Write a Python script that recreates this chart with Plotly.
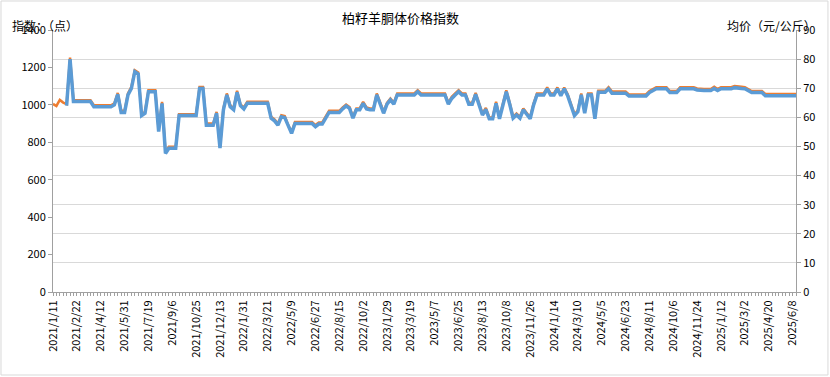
import datetime as dt
import plotly.graph_objects as go

# Tick labels shown on the category axis (every 7th category)
tick_labels = ["2021/1/11", "2021/2/22", "2021/4/12", "2021/5/31", "2021/7/19", "2021/9/6",
               "2021/10/25", "2021/12/13", "2022/1/31", "2022/3/21", "2022/5/9", "2022/6/27",
               "2022/8/15", "2022/10/2", "2023/1/29", "2023/3/19", "2023/5/7", "2023/6/25",
               "2023/8/13", "2023/10/8", "2023/11/26", "2024/1/14", "2024/3/10", "2024/5/5",
               "2024/6/23", "2024/8/11", "2024/10/6", "2024/11/24", "2025/1/12", "2025/3/2",
               "2025/4/20", "2025/6/8"]

# 指数（点） - left axis
index_values = [
    1005, 994, 1026, 1012, 1004, 1253, 1025, 1025, 1025, 1025, 1025, 1025,
    998, 998, 998, 998, 998, 998, 1008, 1064, 968, 968, 1061, 1096,
    1185, 1173, 950, 963, 1078, 1078, 1078, 865, 1016, 749, 776, 776,
    776, 950, 950, 950, 950, 950, 950, 1096, 1096, 900, 900, 900,
    963, 776, 981, 1061, 998, 981, 1075, 1003, 986, 1016, 1016, 1016,
    1016, 1016, 1016, 1016, 936, 922, 900, 945, 940, 892, 856, 909,
    909, 909, 909, 909, 909, 892, 906, 906, 936, 968, 968, 968,
    968, 986, 1002, 989, 936, 981, 981, 1016, 986, 981, 981, 1061,
    1007, 963, 1011, 1034, 1011, 1061, 1061, 1061, 1061, 1061, 1061, 1078,
    1061, 1061, 1061, 1061, 1061, 1061, 1061, 1061, 1011, 1043, 1061, 1078,
    1061, 1061, 1011, 1011, 1064, 1007, 954, 984, 933, 933, 1016, 933,
    1007, 1078, 1011, 936, 954, 936, 981, 954, 933, 1007, 1061, 1061,
    1061, 1093, 1061, 1061, 1093, 1057, 1093, 1057, 1007, 950, 971, 1061,
    963, 1061, 1061, 933, 1075, 1075, 1075, 1094, 1071, 1071, 1071, 1071,
    1071, 1056, 1056, 1056, 1056, 1056, 1056, 1074, 1083, 1094, 1094, 1094,
    1094, 1074, 1074, 1074, 1094, 1094, 1094, 1094, 1094, 1088, 1085, 1085,
    1085, 1085, 1097, 1085, 1094, 1094, 1094, 1094, 1101, 1101, 1097, 1094,
    1084, 1074, 1074, 1074, 1074, 1058, 1058, 1058, 1058, 1058, 1058, 1058,
    1058, 1058, 1058,
]

# 均价（元/公斤） - right axis
price_values = [
    None, None, None, None, 64.0, 80.0, 65.4, 65.4, 65.4, 65.4, 65.4, 65.4,
    63.6, 63.6, 63.6, 63.6, 63.6, 63.6, 64.3, 67.9, 61.7, 61.7, 67.7, 69.9,
    75.7, 74.9, 60.6, 61.4, 68.8, 68.8, 68.8, 55.1, 64.8, 47.6, 49.4, 49.4,
    49.4, 60.6, 60.6, 60.6, 60.6, 60.6, 60.6, 69.9, 69.9, 57.3, 57.3, 57.3,
    61.4, 49.4, 62.6, 67.7, 63.6, 62.6, 68.6, 64.0, 62.9, 64.8, 64.8, 64.8,
    64.8, 64.8, 64.8, 64.8, 59.7, 58.8, 57.3, 60.2, 59.9, 56.8, 54.5, 57.9,
    57.9, 57.9, 57.9, 57.9, 57.9, 56.8, 57.7, 57.7, 59.7, 61.7, 61.7, 61.7,
    61.7, 62.9, 63.9, 63.1, 59.7, 62.6, 62.6, 64.8, 62.9, 62.6, 62.6, 67.7,
    64.2, 61.4, 64.5, 66.0, 64.5, 67.7, 67.7, 67.7, 67.7, 67.7, 67.7, 68.8,
    67.7, 67.7, 67.7, 67.7, 67.7, 67.7, 67.7, 67.7, 64.5, 66.5, 67.7, 68.8,
    67.7, 67.7, 64.5, 64.5, 67.9, 64.2, 60.8, 62.7, 59.5, 59.5, 64.8, 59.5,
    64.2, 68.8, 64.5, 59.7, 60.8, 59.7, 62.6, 60.8, 59.5, 64.2, 67.7, 67.7,
    67.7, 69.8, 67.7, 67.7, 69.8, 67.4, 69.8, 67.4, 64.2, 60.6, 61.9, 67.7,
    61.4, 67.7, 67.7, 59.5, 68.6, 68.6, 68.6, 69.8, 68.3, 68.3, 68.3, 68.3,
    68.3, 67.3, 67.3, 67.3, 67.3, 67.3, 67.3, 68.5, 69.0, 69.8, 69.8, 69.8,
    69.8, 68.5, 68.5, 68.5, 69.8, 69.8, 69.8, 69.8, 69.8, 69.4, 69.2, 69.2,
    69.2, 69.2, 69.9, 69.2, 69.8, 69.8, 69.8, 69.8, 70.2, 70.2, 69.9, 69.8,
    69.1, 68.5, 68.5, 68.5, 68.5, 67.4, 67.4, 67.4, 67.4, 67.4, 67.4, 67.4,
    67.4, 67.4, 67.4,
]

# Category labels: each shown label followed by its unlabeled weekly dates
dates = []
parsed = [dt.datetime.strptime(lab, "%Y/%m/%d") for lab in tick_labels]
for k, d0 in enumerate(parsed):
    if k < len(parsed) - 1:
        span = (parsed[k + 1] - d0).days
        steps = [round(j * span / 7) for j in range(7)]
    else:
        steps = [7 * j for j in range(len(index_values) - 7 * k)]
    for s in steps:
        d = d0 + dt.timedelta(days=s)
        dates.append(f"{d.year}/{d.month}/{d.day}")

FONT = "Noto Sans CJK SC"
AXIS_GRAY = "#a0a0a0"

fig = go.Figure()
fig.add_trace(go.Scatter(x=dates, y=index_values, mode="lines", name="指数",
                         line=dict(color="#ED7D31", width=2.5), yaxis="y"))
fig.add_trace(go.Scatter(x=dates, y=price_values, mode="lines", name="均价",
                         line=dict(color="#5B9BD5", width=3.5), yaxis="y2",
                         connectgaps=False))

ticktext = [d if i % 7 == 0 else "" for i, d in enumerate(dates)]

fig.update_layout(
    width=830, height=377,
    margin=dict(l=53, r=34, t=30, b=85),
    paper_bgcolor="white", plot_bgcolor="white",
    showlegend=False,
    font=dict(family=FONT, size=11, color="#000000"),
    xaxis=dict(type="category", tickmode="array", tickvals=dates, ticktext=ticktext,
               tickangle=-90, showgrid=False, showline=True, linecolor=AXIS_GRAY,
               ticks="outside", ticklen=3, tickcolor=AXIS_GRAY,
               range=[0, len(dates) - 1], tickfont=dict(size=11)),
    yaxis=dict(range=[0, 1400], dtick=200, showgrid=False, showline=True,
               linecolor=AXIS_GRAY, ticks="outside", ticklen=4, tickcolor=AXIS_GRAY,
               zeroline=False, tickfont=dict(size=11)),
    yaxis2=dict(range=[0, 90], dtick=10, overlaying="y", side="right",
                showgrid=True, gridcolor="#d9d9d9", gridwidth=1, showline=True,
                linecolor=AXIS_GRAY, ticks="outside", ticklen=4, tickcolor=AXIS_GRAY,
                zeroline=False, tickfont=dict(size=11)),
)

fig.add_annotation(text="柏籽羊胴体价格指数", xref="paper", yref="paper",
                   x=0.468, y=1.046, xanchor="center", yanchor="middle",
                   showarrow=False, font=dict(size=13))
fig.add_annotation(text="指数：（点）", xref="paper", yref="paper",
                   x=-0.058, y=1.019, xanchor="left", yanchor="middle",
                   showarrow=False, font=dict(size=12))
fig.add_annotation(text="均价（元/公斤）", xref="paper", yref="paper",
                   x=1.0296, y=1.019, xanchor="right", yanchor="middle",
                   showarrow=False, font=dict(size=12))

fig.add_shape(type="rect", xref="paper", yref="paper",
              x0=-0.0700, x1=1.0430, y0=-0.3168, y1=1.1107,
              line=dict(color="#d9d9d9", width=1), fillcolor="rgba(0,0,0,0)", layer="below")

fig.write_html("out.html", config={"displayModeBar": False},
               post_script="document.body.style.margin='0px';")
